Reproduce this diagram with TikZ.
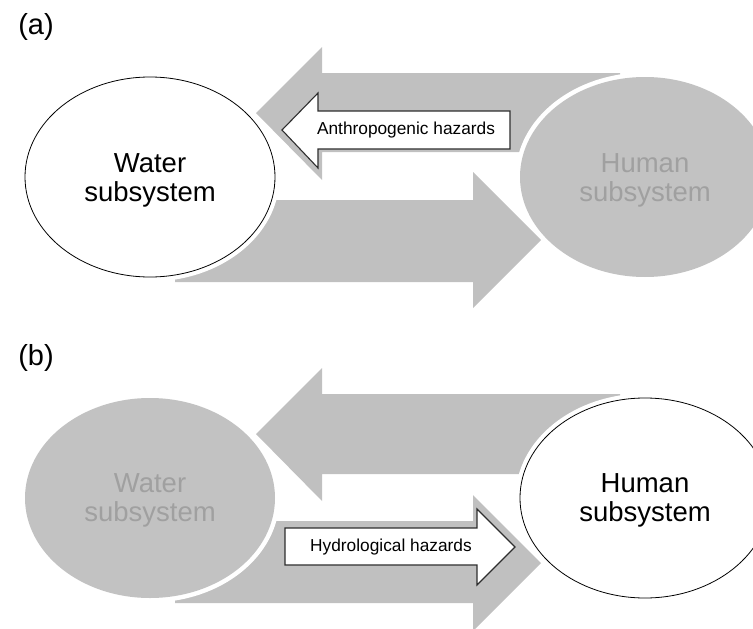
\documentclass[tikz,border=0pt]{standalone}
\usepackage{fontspec}
\setmainfont{Liberation Sans}
\usetikzlibrary{shapes.geometric}
\definecolor{arrowgray}{HTML}{C0C0C0}
\definecolor{ellgray}{HTML}{C2C2C2}
\definecolor{txtgray}{HTML}{A0A0A0}
\definecolor{linegray}{HTML}{2E2E2E}
\begin{document}
\begin{tikzpicture}[x=1pt,y=-1pt,
  bigarrow/.style={fill=arrowgray,draw=none},
  hazard/.style={fill=white,draw=linegray,line width=1.1pt,line join=miter},
  hazardtext/.style={font=\fontsize{17.3}{20}\selectfont,text=black,inner sep=0pt},
  subsys/.style={ellipse,minimum width=250pt,minimum height=200pt,inner sep=0pt,
     preaction={draw=white,line width=9pt}},
  subwhite/.style={subsys,fill=white,draw=black,line width=0.8pt},
  subgray/.style={subsys,fill=ellgray},
  subtext/.style={align=center,inner sep=0pt,font=\fontsize{27.5}{29}\selectfont},
  panellabel/.style={font=\fontsize{29}{32}\selectfont,inner sep=0pt}
]
\useasboundingbox (0,0) rectangle (753,629);
\clip (0,0) rectangle (753,629);

% ---------- panel (a) ----------
\node[panellabel] (la) at (36,27) {(a)};
\fill[bigarrow] (256,113) -- (322,47) -- (322,73) -- (620,73) -- (620,152)
   -- (322,152) -- (322,180) -- cycle;
\fill[bigarrow] (175,200) -- (473,200) -- (473,172) -- (541,240) -- (473,308)
   -- (473,282) -- (175,282) -- cycle;
\node[subwhite] (watera) at (150,177) {};
\node[subtext,text=black] (wateratext) at (150,180) {Water\\subsystem};
\node[subgray] (humana) at (645,177) {};
\node[subtext,text=txtgray] (humanatext) at (645,180) {Human\\subsystem};
\draw[hazard] (282,130) -- (318,93) -- (318,111) -- (510,111) -- (510,149)
   -- (318,149) -- (318,168) -- cycle;
\node[hazardtext] (anth) at (406,130) {Anthropogenic hazards};

% ---------- panel (b) ----------
\node[panellabel] (lb) at (36,358) {(b)};
\fill[bigarrow] (256,434) -- (322,368) -- (322,394) -- (620,394) -- (620,474)
   -- (322,474) -- (322,501) -- cycle;
\fill[bigarrow] (175,521) -- (473,521) -- (473,495) -- (541,563) -- (473,631)
   -- (473,603) -- (175,603) -- cycle;
\node[subgray] (waterb) at (150,498) {};
\node[subtext,text=txtgray] (waterbtext) at (150,500) {Water\\subsystem};
\node[subwhite] (humanb) at (645,498) {};
\node[subtext,text=black] (humanbtext) at (645,500) {Human\\subsystem};
\draw[hazard] (285,528) -- (477,528) -- (477,509) -- (515,547) -- (477,585)
   -- (477,565) -- (285,565) -- cycle;
\node[hazardtext] (hydro) at (391,547) {Hydrological hazards};
\end{tikzpicture}
\end{document}
